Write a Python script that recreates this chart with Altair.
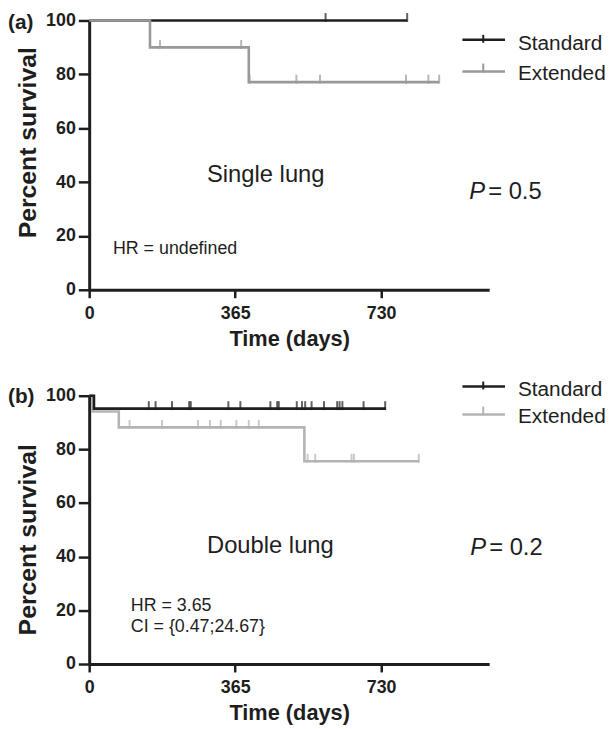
import altair as alt
import pandas as pd

# ---------------- data ----------------
# Panel (a) single lung
a_std_t = [0, 795]
a_std_s = [100, 100]
a_std_cens_t = [591, 795]
a_std_cens_s = [100, 100]

a_ext_t = [0, 152, 399, 875]
a_ext_s = [100, 90, 77.1, 77.1]
a_ext_cens_t = [177, 380, 401, 518, 577, 792, 848, 875]
a_ext_cens_s = [90, 90, 77.1, 77.1, 77.1, 77.1, 77.1, 77.1]

# Panel (b) double lung
b_std_t = [0, 12, 742]
b_std_s = [100, 95.2, 95.2]
b_std_cens_t = [149, 166, 207, 250, 254, 348, 378, 453, 470, 474, 519, 532,
                540, 556, 587, 620, 626, 633, 686, 740]
b_std_cens_s = [95.2] * len(b_std_cens_t)

b_ext_t = [0, 8, 74, 538, 825]
b_ext_s = [100, 94.1, 88.2, 75.6, 75.6]
b_ext_cens_t = [101, 182, 272, 302, 329, 368, 399, 424, 546, 565, 656, 662, 824]
b_ext_cens_s = [88.2] * 8 + [75.6] * 5

x_ticks = [0, 365, 730]
y_ticks = [0, 20, 40, 60, 80, 100]
series_names = ["Standard", "Extended"]

FONT = "Liberation Sans"
BLACK = "#1e1e1e"
GRAY_A = "#999999"
GRAY_B = "#b4b4b4"
W = 404


def df(t, s):
    return pd.DataFrame({"t": t, "s": s})


ONE = pd.DataFrame({"k": [0]})


def enc(title_y):
    x = alt.X("t:Q", scale=alt.Scale(domain=[0, 1000], nice=False),
              axis=alt.Axis(values=x_ticks, title="Time (days)", tickSize=8,
                            labelPadding=21, labelBaseline="alphabetic",
                            labelFlush=False,
                            titleX=W / 2, titleY=56, titleBaseline="alphabetic",
                            titleFontSize=22))
    y = alt.Y("s:Q", scale=alt.Scale(domain=[0, 100], nice=False),
              axis=alt.Axis(values=y_ticks, title="Percent survival", tickSize=11,
                            labelPadding=3, labelFlush=False,
                            titleX=-54, titleY=title_y,
                            titleBaseline="alphabetic", titleAngle=-90,
                            titleFontSize=25))
    return x, y


def text(s, x, y, size, weight="normal", style="normal", align="left"):
    return alt.Chart(ONE).mark_text(
        text=s, font=FONT, fontSize=size, fontWeight=weight, fontStyle=style,
        align=align, baseline="alphabetic", color=BLACK
    ).encode(x=alt.value(x), y=alt.value(y))


def rule(x1, x2, y1, y2, color, width):
    return alt.Chart(ONE).mark_rule(color=color, strokeWidth=width).encode(
        x=alt.value(x1), x2=alt.value(x2), y=alt.value(y1), y2=alt.value(y2))


def curve(t, s, ct, cs, color, x, y):
    line = alt.Chart(df(t, s)).mark_line(
        interpolate="step-after", color=color, strokeWidth=2.6
    ).encode(x=x, y=y)
    ticks = alt.Chart(df(ct, cs)).mark_tick(
        orient="vertical", size=9, thickness=2, yOffset=-3, color=color
    ).encode(x=x, y=y)
    return [line, ticks]


def legend(gray, ys, yt):
    return [
        rule(377, 420, ys, ys, BLACK, 2.6),
        rule(398, 398, ys - 5, ys + 3, BLACK, 2),
        text(series_names[0], 433, ys + 10, 21),
        rule(377, 420, yt, yt, gray, 2.6),
        rule(398, 398, yt - 8, yt + 1, gray, 2),
        text(series_names[1], 433, yt + 9, 21),
    ]


# ---------------- panel (a) ----------------
xa, ya = enc(123)
layers_a = (curve(a_std_t, a_std_s, a_std_cens_t, a_std_cens_s, BLACK, xa, ya)
            + curve(a_ext_t, a_ext_s, a_ext_cens_t, a_ext_cens_s, GRAY_A, xa, ya)
            + legend(GRAY_A, 19.5, 51.5)
            + [text("(a)", -82, 8.5, 21, weight="bold"),
               text("Single lung", 119, 163, 24),
               text("HR = undefined", 24, 236, 18),
               text("P", 384, 180, 24, style="italic"),
               text("= 0.5", 403, 180, 24)])
panel_a = alt.layer(*layers_a).properties(width=W, height=272)

# ---------------- panel (b) ----------------
xb, yb = enc(145)
layers_b = (curve(b_ext_t, b_ext_s, b_ext_cens_t, b_ext_cens_s, GRAY_B, xb, yb)
            + curve(b_std_t, b_std_s, b_std_cens_t, b_std_cens_s, BLACK, xb, yb)
            + legend(GRAY_B, -9.3, 19)
            + [text("(b)", -82, 7.5, 21, weight="bold"),
               text("Double lung", 119, 159, 24),
               text("HR = 3.65", 42, 217, 18),
               text("CI = {0.47;24.67}", 42, 239, 18),
               text("P", 385, 161, 24, style="italic"),
               text("= 0.2", 404, 161, 24)])
panel_b = alt.layer(*layers_b).properties(width=W, height=271)

chart = alt.vconcat(panel_a, panel_b, spacing=107, bounds="flush").properties(
    padding={"left": 0, "top": 0, "right": 0, "bottom": 0}
).configure_view(stroke=None).configure_axis(
    grid=False, domainColor=BLACK, domainWidth=3, tickColor=BLACK, tickWidth=2.5,
    labelFont=FONT, labelFontSize=18, labelFontWeight="bold", labelColor=BLACK,
    titleFont=FONT, titleFontWeight="bold", titleColor=BLACK
)

chart.save("out.html", embed_options={"renderer": "svg", "actions": False})
